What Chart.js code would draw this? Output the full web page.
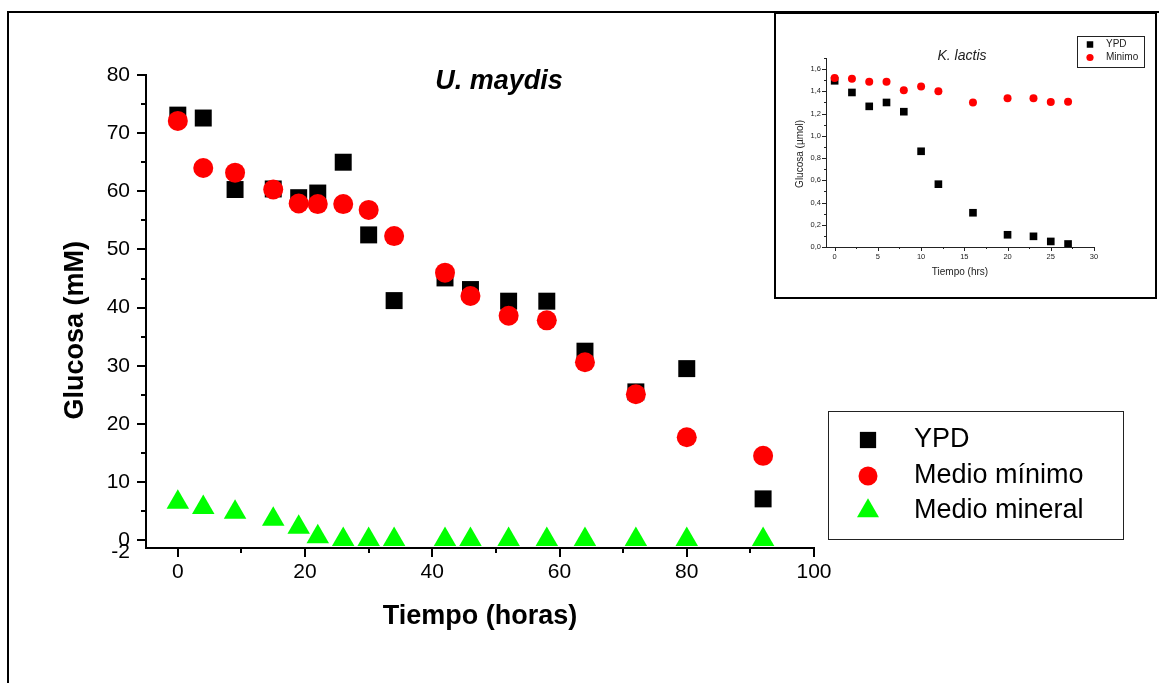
<!DOCTYPE html>
<html>
<head>
<meta charset="utf-8">
<script src="https://cdn.jsdelivr.net/npm/chart.js@4.4.1/dist/chart.umd.min.js"></script>
<style>
  html, body { margin: 0; padding: 0; background: #fff; }
  #wrap { position: relative; width: 1159px; height: 683px; overflow: hidden; }
  #marco { position: absolute; left: 7px; top: 11px; right: -5px; bottom: -5px;
           border-top: 2px solid #000; border-left: 2px solid #000; }
  #main { position: absolute; left: 0; top: 0; display: block; }
  #recuadro { position: absolute; left: 774px; top: 12px; width: 379px; height: 283px;
              border: 2px solid #000; background: #fff; }
  #inset { display: block; }
</style>
</head>
<body>
<div id="wrap">
  <div id="marco"></div>
  <canvas id="main" width="1159" height="683"></canvas>
  <div id="recuadro"><canvas id="inset" width="379" height="283"></canvas></div>
</div>
<script>
// U. maydis: glucosa en el medio (mM) frente al tiempo (horas)
const tiempo  = [0, 4, 9, 15, 19, 22, 26, 30, 34, 42, 46, 52, 58, 64, 72, 80, 92];
const ypd     = [73.1, 72.6, 60.3, 60.4, 58.9, 59.7, 65.0, 52.5, 41.2, 45.1, 43.1, 41.1, 41.1, 32.5, 25.5, 29.5, 7.1];
const minimo  = [72.1, 64.0, 63.2, 60.3, 57.9, 57.8, 57.8, 56.8, 52.3, 46.0, 42.0, 38.6, 37.8, 30.6, 25.1, 17.7, 14.5];
const mineral = [6.5, 5.6, 4.8, 3.6, 2.2, 0.6, 0.1, 0.1, 0.1, 0.1, 0.1, 0.1, 0.1, 0.1, 0.1, 0.1, 0.1];
const etiquetasX = [0, 20, 40, 60, 80, 100];
const etiquetasY = [-2, 0, 10, 20, 30, 40, 50, 60, 70, 80];

// K. lactis: glucosa (umol) frente al tiempo (hrs)
const tiempoK = [0, 2, 4, 6, 8, 10, 12, 16, 20, 23, 25, 27];
const ypdK    = [1.495, 1.39, 1.265, 1.30, 1.217, 0.861, 0.565, 0.308, 0.11, 0.096, 0.05, 0.027];
const minimoK = [1.519, 1.513, 1.486, 1.486, 1.41, 1.444, 1.40, 1.30, 1.337, 1.337, 1.304, 1.307];
const etiquetasXK = [0, 5, 10, 15, 20, 25, 30];
const etiquetasYK = [0, 0.2, 0.4, 0.6, 0.8, 1.0, 1.2, 1.4, 1.6];

const fuente = "'Liberation Sans', Arial, sans-serif";
Chart.defaults.font.family = fuente;
Chart.defaults.color = '#000';

function puntos(xs, ys) {
  return xs.map((x, i) => ({ x: x, y: ys[i] }));
}

// marcas mayores con etiqueta + menores a mitad de paso
function marcas(mayores, menores) {
  return mayores.map(v => ({ value: v, mayor: true }))
    .concat(menores.map(v => ({ value: v, mayor: false })))
    .sort((a, b) => a.value - b.value);
}
function rango(desde, hasta, paso) {
  const r = [];
  for (let v = desde; v <= hasta + 1e-9; v += paso) r.push(Math.round(v * 100) / 100);
  return r;
}

// marcas hacia fuera, largas para las mayores y cortas para las menores
const marcasEje = {
  id: 'marcasEje',
  afterDraw(chart, args, o) {
    const { ctx, chartArea } = chart;
    const sx = chart.scales.x, sy = chart.scales.y;
    ctx.save();
    ctx.strokeStyle = o.color;
    ctx.lineWidth = o.width;
    ctx.beginPath();
    sx.ticks.forEach(t => {
      if (t.value < sx.min || t.value > sx.max) return;
      const px = Math.round(sx.getPixelForValue(t.value)) + (o.width % 2 ? 0.5 : 0);
      ctx.moveTo(px, chartArea.bottom);
      ctx.lineTo(px, chartArea.bottom + (t.mayor ? o.major : o.minor));
    });
    sy.ticks.forEach(t => {
      if (t.value < sy.min || t.value > sy.max) return;
      const py = Math.round(sy.getPixelForValue(t.value)) + (o.width % 2 ? 0.5 : 0);
      ctx.moveTo(chartArea.left, py);
      ctx.lineTo(chartArea.left - (t.mayor ? o.major : o.minor), py);
    });
    ctx.stroke();
    ctx.restore();
  }
};

// leyenda en recuadro, con las formas de cada serie
const leyendaCaja = {
  id: 'leyendaCaja',
  afterDraw(chart, args, o) {
    const ctx = chart.ctx;
    ctx.save();
    ctx.strokeStyle = o.borderColor;
    ctx.lineWidth = 1;
    ctx.strokeRect(o.box[0] + 0.5, o.box[1] + 0.5, o.box[2], o.box[3]);
    ctx.font = o.font;
    ctx.textBaseline = 'middle';
    ctx.textAlign = 'left';
    chart.data.datasets.forEach((ds, i) => {
      const y = o.rows[i];
      ctx.fillStyle = ds.backgroundColor;
      Chart.helpers.drawPoint(ctx, {
        pointStyle: ds.pointStyle, radius: o.radii[i], rotation: 0, borderWidth: 0
      }, o.markerX, y);
      ctx.fillStyle = o.color;
      ctx.fillText(ds.label, o.textX, y);
    });
    ctx.restore();
  }
};

// nombre del organismo dentro del área de la gráfica
const rotulo = {
  id: 'rotulo',
  afterDraw(chart, args, o) {
    const ctx = chart.ctx;
    ctx.save();
    ctx.font = o.font;
    ctx.fillStyle = o.color;
    ctx.textAlign = 'center';
    ctx.textBaseline = 'middle';
    ctx.fillText(o.text, o.x, o.y);
    ctx.restore();
  }
};

new Chart(document.getElementById('main'), {
  type: 'scatter',
  data: {
    datasets: [
      { label: 'YPD', data: puntos(tiempo, ypd), pointStyle: 'rect',
        backgroundColor: '#000000', pointRadius: 12, pointBorderWidth: 0, order: 3 },
      { label: 'Medio mínimo', data: puntos(tiempo, minimo), pointStyle: 'circle',
        backgroundColor: '#ff0000', pointRadius: 10, pointBorderWidth: 0, order: 2 },
      { label: 'Medio mineral', data: puntos(tiempo, mineral), pointStyle: 'triangle',
        backgroundColor: '#00ff00', pointRadius: 13, pointBorderWidth: 0, order: 1 }
    ]
  },
  options: {
    responsive: false,
    animation: false,
    events: [],
    layout: { padding: { left: 0, top: 75, right: 345, bottom: 0 } },
    plugins: {
      legend: { display: false },
      tooltip: { enabled: false },
      marcasEje: { color: '#000', width: 2, major: 9, minor: 5 },
      leyendaCaja: {
        box: [828, 411, 295, 128], borderColor: '#222', color: '#000',
        font: '27px ' + fuente, markerX: 868, textX: 914,
        rows: [440, 476, 511], radii: [11.5, 9.5, 12.7]
      },
      rotulo: { text: 'U. maydis', x: 499, y: 82, color: '#000',
                font: 'italic bold 27px ' + fuente }
    },
    scales: {
      x: {
        type: 'linear', min: -5, max: 100,
        afterBuildTicks(s) { s.ticks = marcas(etiquetasX, rango(10, 90, 20)); },
        afterFit(s) { s.height = 135; },
        grid: { display: false, drawTicks: false },
        border: { display: true, color: '#000', width: 2 },
        ticks: {
          autoSkip: false, maxRotation: 0, padding: 12,
          font: { size: 21 },
          callback: (v, i, t) => t[i].mayor ? String(v) : ''
        },
        title: { display: true, text: 'Tiempo (horas)',
                 font: { size: 27, weight: 'bold' }, padding: { top: 0, bottom: 50 } }
      },
      y: {
        type: 'linear', min: -1.35, max: 80,
        afterBuildTicks(s) { s.ticks = marcas(etiquetasY, rango(5, 75, 10)); },
        afterFit(s) { s.width = 146; },
        grid: { display: false, drawTicks: false },
        border: { display: true, color: '#000', width: 2 },
        ticks: {
          autoSkip: false, padding: 16,
          font: { size: 21 },
          callback: (v, i, t) => t[i].mayor ? String(v) : ''
        },
        title: { display: true, text: 'Glucosa (mM)     ',
                 font: { size: 27, weight: 'bold' }, padding: { top: 59, bottom: 0 } }
      }
    }
  },
  plugins: [marcasEje, leyendaCaja, rotulo]
});

new Chart(document.getElementById('inset'), {
  type: 'scatter',
  data: {
    datasets: [
      { label: 'YPD', data: puntos(tiempoK, ypdK), pointStyle: 'rect',
        backgroundColor: '#000000', pointRadius: 5.4, pointBorderWidth: 0, order: 2 },
      { label: 'Minimo', data: puntos(tiempoK, minimoK), pointStyle: 'circle',
        backgroundColor: '#ff0000', pointRadius: 4, pointBorderWidth: 0, order: 1 }
    ]
  },
  options: {
    responsive: false,
    animation: false,
    events: [],
    layout: { padding: { left: 0, top: 44, right: 61, bottom: 0 } },
    plugins: {
      legend: { display: false },
      tooltip: { enabled: false },
      marcasEje: { color: '#222', width: 1, major: 4, minor: 2 },
      leyendaCaja: {
        box: [301, 22, 67, 31], borderColor: '#222', color: '#222',
        font: '10px ' + fuente, markerX: 314, textX: 330,
        rows: [30.5, 43.5], radii: [4.6, 3.6]
      },
      rotulo: { text: 'K. lactis', x: 186, y: 42, color: '#222',
                font: 'italic 14px ' + fuente }
    },
    scales: {
      x: {
        type: 'linear', min: -1, max: 30,
        afterBuildTicks(s) { s.ticks = marcas(etiquetasXK, rango(2.5, 27.5, 5)); },
        afterFit(s) { s.height = 50; },
        grid: { display: false, drawTicks: false },
        border: { display: true, color: '#222', width: 1 },
        ticks: {
          autoSkip: false, maxRotation: 0, padding: 5, color: '#222',
          font: { size: 7.5 },
          callback: (v, i, t) => t[i].mayor ? String(v) : ''
        },
        title: { display: true, text: 'Tiempo (hrs)', color: '#222',
                 font: { size: 10 }, padding: { top: 0, bottom: 19 } }
      },
      y: {
        type: 'linear', min: 0, max: 1.7,
        afterBuildTicks(s) { s.ticks = marcas(etiquetasYK, rango(0.1, 1.7, 0.2)); },
        afterFit(s) { s.width = 50; },
        grid: { display: false, drawTicks: false },
        border: { display: true, color: '#222', width: 1 },
        ticks: {
          autoSkip: false, padding: 5, color: '#222',
          font: { size: 7.5 },
          callback: (v, i, t) => t[i].mayor ? v.toFixed(1).replace('.', ',') : ''
        },
        title: { display: true, text: 'Glucosa (µmol) ', color: '#222',
                 font: { size: 10 }, padding: { top: 18, bottom: 0 } }
      }
    }
  },
  plugins: [marcasEje, leyendaCaja, rotulo]
});
</script>
</body>
</html>
